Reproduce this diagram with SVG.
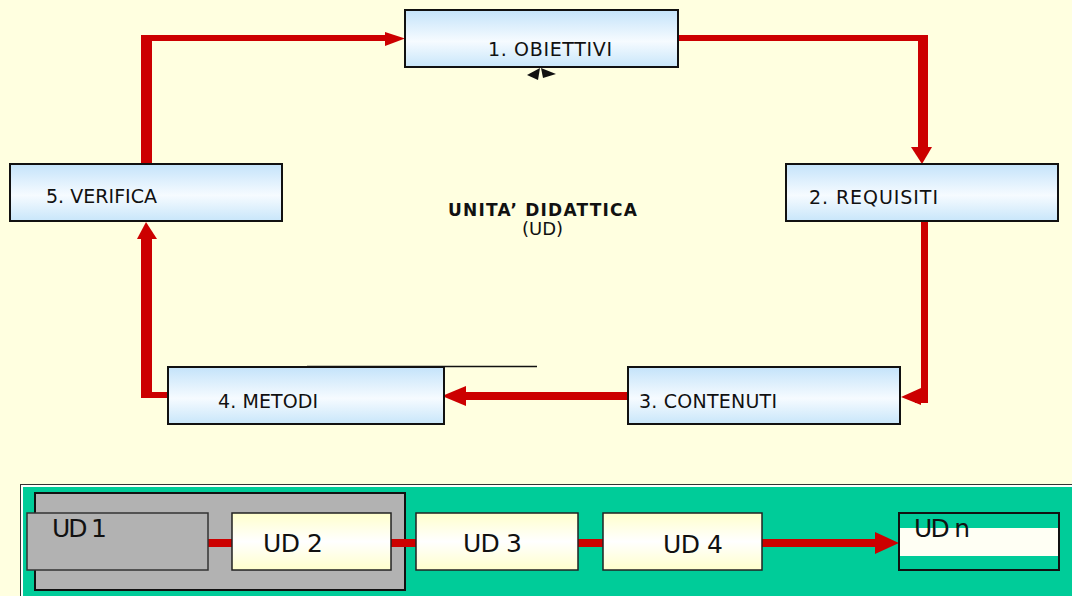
<svg xmlns="http://www.w3.org/2000/svg" width="1072" height="596" viewBox="0 0 1072 596">
  <defs>
    <linearGradient id="boxBlue" x1="0" y1="0" x2="0" y2="1">
      <stop offset="0" stop-color="#C4E3FA"/>
      <stop offset="0.55" stop-color="#F6FBFF"/>
      <stop offset="1" stop-color="#C8E6FA"/>
    </linearGradient>
    <linearGradient id="boxCream" x1="0" y1="0" x2="0" y2="1">
      <stop offset="0" stop-color="#FFFFCC"/>
      <stop offset="0.5" stop-color="#FFFFFF"/>
      <stop offset="1" stop-color="#FFFFCC"/>
    </linearGradient>
  </defs>
  <style>
    .step { fill: url(#boxBlue); stroke: #111; stroke-width: 2; }
    .lbl { font-family: "DejaVu Sans", "Liberation Sans", sans-serif; font-size: 19px; fill: #111; }
    .title { font-family: "DejaVu Sans", "Liberation Sans", sans-serif; font-size: 17px; font-weight: bold; fill: #111; }
    .sub { font-family: "DejaVu Sans", "Liberation Sans", sans-serif; font-size: 18px; fill: #111; }
    .ud { font-family: "DejaVu Sans", "Liberation Sans", sans-serif; font-size: 25px; fill: #111; }
    .red { fill: #CC0000; }
    .udbox { fill: url(#boxCream); stroke: #222; stroke-width: 1.5; }
  </style>

  <!-- page background -->
  <rect x="0" y="0" width="1072" height="596" fill="#FFFFE0"/>

  <!-- cycle connectors -->
  <g id="connectors">
    <!-- 5 -> 1 -->
    <rect class="red" x="141" y="35" width="11" height="129"/>
    <rect class="red" x="141" y="35" width="246" height="6"/>
    <polygon class="red" points="385,32 405,38.5 385,46"/>
    <!-- 1 -> 2 -->
    <rect class="red" x="678" y="35" width="250" height="6"/>
    <rect class="red" x="918" y="35" width="10" height="114"/>
    <polygon class="red" points="911,147 932,147 922,164"/>
    <!-- 2 -> 3 -->
    <rect class="red" x="921" y="222" width="7" height="181"/>
    <rect class="red" x="915" y="394" width="13" height="9"/>
    <polygon class="red" points="901,397 921,388 921,405"/>
    <!-- 3 -> 4 -->
    <rect class="red" x="460" y="392" width="168" height="8"/>
    <polygon class="red" points="442,396 466,386 466,406"/>
    <!-- 4 -> 5 -->
    <rect class="red" x="141" y="392" width="27" height="6"/>
    <rect class="red" x="141" y="236" width="11" height="162"/>
    <polygon class="red" points="137,239 157,239 146,222"/>
    <!-- loose line over step 4 -->
    <line x1="307" y1="366.5" x2="537" y2="366.5" stroke="#111" stroke-width="1.5"/>
    <!-- small arrowheads under step 1 -->
    <polygon points="540,68 527,75 538,80" fill="#111"/>
    <polygon points="541,68 556,74 543,78" fill="#111"/>
  </g>

  <g id="step1">
    <rect class="step" x="405" y="10" width="273" height="57"/>
    <text class="lbl" x="488" y="56" textLength="124" lengthAdjust="spacing">1. OBIETTIVI</text>
  </g>
  <g id="step2">
    <rect class="step" x="786" y="164" width="272" height="57"/>
    <text class="lbl" x="809" y="204" textLength="129" lengthAdjust="spacing">2. REQUISITI</text>
  </g>
  <g id="step3">
    <rect class="step" x="628" y="367" width="272" height="57"/>
    <text class="lbl" x="639" y="408" textLength="138" lengthAdjust="spacing">3. CONTENUTI</text>
  </g>
  <g id="step4">
    <rect class="step" x="168" y="367" width="276" height="57"/>
    <text class="lbl" x="218" y="408" textLength="100" lengthAdjust="spacing">4. METODI</text>
  </g>
  <g id="step5">
    <rect class="step" x="10" y="164" width="272" height="57"/>
    <text class="lbl" x="46" y="203" textLength="111" lengthAdjust="spacing">5. VERIFICA</text>
  </g>

  <g id="centre-title">
    <text class="title" x="448" y="216" textLength="189" lengthAdjust="spacing">UNITA’ DIDATTICA</text>
    <text class="sub" x="522" y="235" textLength="41" lengthAdjust="spacing">(UD)</text>
  </g>

  <!-- sequence of units -->
  <g id="units-panel">
    <rect x="20.5" y="484.5" width="1060" height="120" fill="#FFFFFF" stroke="#333" stroke-width="1"/>
    <rect x="23" y="487" width="1060" height="120" fill="#00CC99"/>
    <rect x="35" y="493" width="370" height="97" fill="#B2B2B2" stroke="#111" stroke-width="2"/>
  </g>

  <g id="unit-links">
    <rect class="red" x="208" y="539" width="24" height="8"/>
    <rect class="red" x="391" y="539" width="25" height="8"/>
    <rect class="red" x="578" y="539" width="25" height="8"/>
    <rect class="red" x="762" y="539" width="115" height="8"/>
    <polygon class="red" points="875,532 899,543 875,554"/>
  </g>

  <g id="ud1">
    <rect x="27" y="513" width="181" height="57" fill="#B2B2B2" stroke="#333" stroke-width="1.5"/>
    <text class="ud" x="52" y="537" textLength="55" lengthAdjust="spacing">UD 1</text>
  </g>
  <g id="ud2">
    <rect class="udbox" x="232" y="513" width="159" height="57"/>
    <text class="ud" x="263" y="552" textLength="60" lengthAdjust="spacing">UD 2</text>
  </g>
  <g id="ud3">
    <rect class="udbox" x="416" y="513" width="162" height="57"/>
    <text class="ud" x="463" y="552" textLength="59" lengthAdjust="spacing">UD 3</text>
  </g>
  <g id="ud4">
    <rect class="udbox" x="603" y="513" width="159" height="57"/>
    <text class="ud" x="663" y="553" textLength="60" lengthAdjust="spacing">UD 4</text>
  </g>
  <g id="udn">
    <rect x="899" y="513" width="160" height="57" fill="#00CC99"/>
    <rect x="900" y="528" width="158" height="28" fill="#FFFFF4"/>
    <rect x="899" y="513" width="160" height="57" fill="none" stroke="#111" stroke-width="2"/>
    <text class="ud" x="914" y="537" textLength="56" lengthAdjust="spacing">UD n</text>
  </g>
</svg>
